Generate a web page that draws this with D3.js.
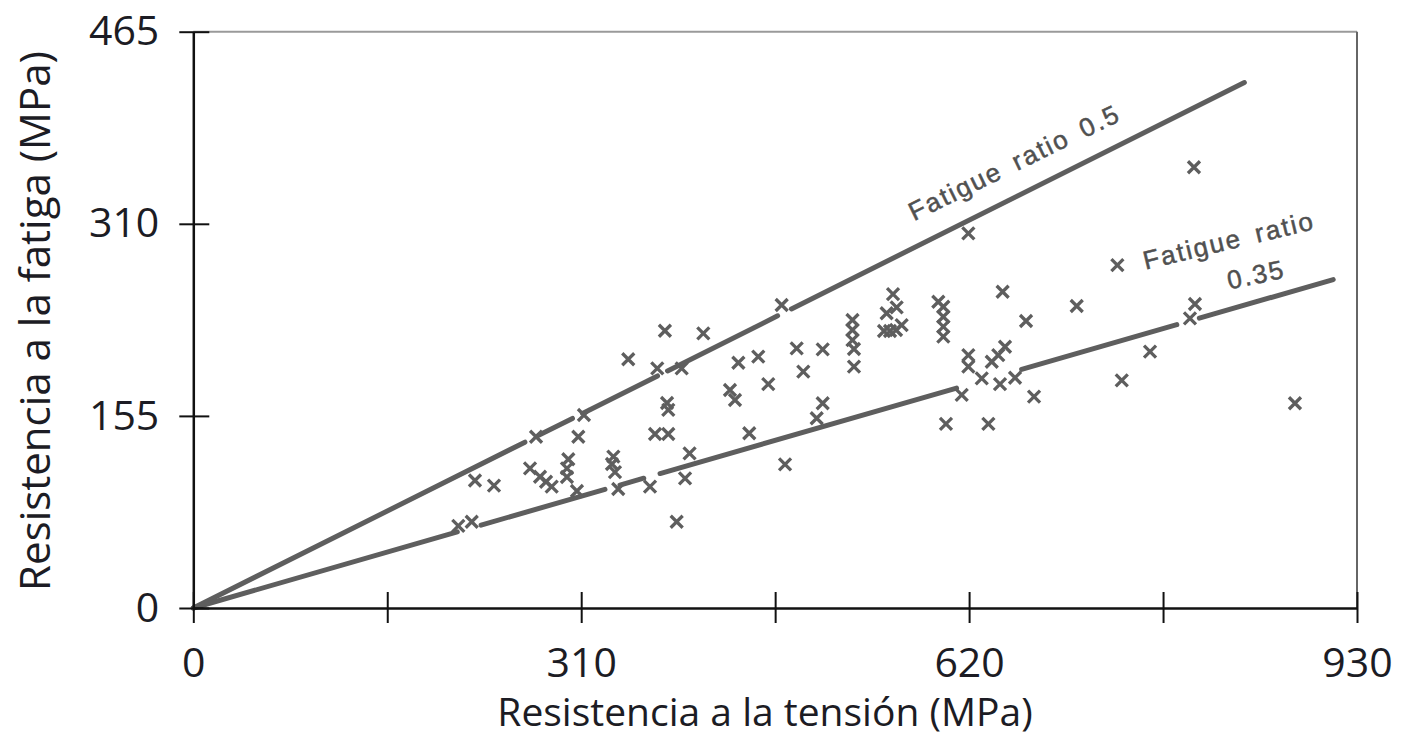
<!DOCTYPE html>
<html>
<head>
<meta charset="utf-8">
<script src="https://cdn.jsdelivr.net/npm/d3@7"></script>
<style>
  body { margin: 0; background: #fff; }
  svg { display: block; }
</style>
</head>
<body>
<div id="chart"></div>
<script>
// tensile strength (x) vs fatigue strength (y), both MPa
var tension = [211.8, 222.5, 225.1, 240.3, 269.1, 273.9, 277.1, 281.9, 286.4, 299.7,
  298.6, 298.6, 306.6, 307.7, 312.2, 335.7, 334.6, 337.0, 339.6, 347.6,
  365.0, 369.0, 370.8, 376.9, 378.6, 379.6, 379.6, 386.3, 390.3, 393.0,
  396.6, 407.6, 428.9, 432.9, 435.6, 444.3, 451.5, 459.5, 470.2, 472.9,
  482.2, 487.5, 498.2, 503.0, 503.0, 526.8, 526.8, 526.8, 528.0, 528.0,
  552.0, 556.8, 561.6, 554.1, 559.2, 562.1, 566.1, 595.4, 599.4, 599.4,
  599.4, 599.4, 601.5, 614.1, 619.4, 619.4, 619.4, 630.1, 635.4, 638.1,
  643.3, 644.7, 646.8, 648.7, 656.7, 665.5, 671.9, 706.0, 738.5, 742.0,
  764.6, 796.5, 800.5, 799.7, 880.4];
var fatiga = [66.2, 69.6, 102.9, 98.8, 112.6, 138.2, 105.9, 101.9, 97.9, 120.0,
  112.7, 105.7, 94.4, 138.2, 155.7, 122.1, 116.2, 109.7, 96.0, 200.7,
  97.9, 140.4, 193.4, 223.7, 165.4, 159.8, 140.4, 69.6, 193.4, 104.6,
  124.8, 221.6, 175.9, 167.8, 197.9, 141.0, 202.8, 180.7, 244.5, 115.9,
  209.5, 190.7, 153.1, 208.7, 165.2, 232.4, 224.3, 216.2, 209.0, 194.7,
  223.5, 223.5, 224.3, 237.8, 253.3, 242.5, 228.3, 247.1, 243.1, 235.0,
  227.0, 218.9, 148.5, 171.9, 302.3, 204.1, 194.7, 185.3, 148.5, 198.7,
  204.1, 180.7, 255.2, 210.8, 185.8, 231.6, 170.6, 243.7, 276.7, 183.7,
  206.8, 233.7, 245.3, 355.6, 165.2];

var xTicks = [0, 155, 310, 465, 620, 775, 930];
var xLabels = [0, 310, 620, 930];
var yTicks = [0, 155, 310, 465];

// ratio lines: end point and drawn pieces (gaps where crosses sit)
var upperEnd = [840, 424];
var upperPieces = [[0, 265], [276, 303], [311, 371], [379, 467], [478, 840]];
var lowerEnd = [911, 265];
var lowerPieces = [[0, 211], [230, 329], [341, 360], [373, 610], [662, 786], [804, 911]];

var W = 1401, H = 738;

var svg = d3.select("#chart").append("svg")
  .attr("width", W)
  .attr("height", H);

var x = d3.scaleLinear().domain([0, 930]).range([193.3, 1357]);
var y = d3.scaleLinear().domain([0, 465]).range([608, 31.7]);

var ink = "#5e5e5e";

// frame top and right
svg.append("line")
  .attr("x1", x(0)).attr("x2", x(930))
  .attr("y1", y(465)).attr("y2", y(465))
  .attr("stroke", "#9a9a9a").attr("stroke-width", 2);
svg.append("line")
  .attr("x1", x(930)).attr("x2", x(930))
  .attr("y1", y(465)).attr("y2", y(0))
  .attr("stroke", "#666").attr("stroke-width", 2);

// ratio lines
function drawPieces(pieces, end) {
  var k = end[1] / end[0];
  svg.append("g").selectAll("line")
    .data(pieces)
    .enter()
    .append("line")
      .attr("x1", function (d) { return x(d[0]); })
      .attr("y1", function (d) { return y(d[0] * k); })
      .attr("x2", function (d) { return x(d[1]); })
      .attr("y2", function (d) { return y(d[1] * k); })
      .attr("stroke", ink)
      .attr("stroke-width", 5)
      .attr("stroke-linecap", "round");
}
drawPieces(upperPieces, upperEnd);
drawPieces(lowerPieces, lowerEnd);

// crosses
var pts = tension.map(function (t, i) { return [t, fatiga[i]]; });
svg.append("g")
  .selectAll("path")
  .data(pts)
  .enter()
  .append("path")
    .attr("d", function (d) {
      var cx = x(d[0]), cy = y(d[1]), s = 6;
      return "M" + (cx - s) + "," + (cy - s) + "L" + (cx + s) + "," + (cy + s) +
             "M" + (cx + s) + "," + (cy - s) + "L" + (cx - s) + "," + (cy + s);
    })
    .attr("stroke", ink)
    .attr("stroke-width", 3.3)
    .attr("fill", "none");

// line labels
var labelFont = "'Liberation Sans', Arial, sans-serif";
function lineLabel(txt, at, angle) {
  svg.append("text")
    .attr("transform", "translate(" + x(at[0]) + "," + y(at[1]) + ") rotate(" + angle + ")")
    .attr("font-family", labelFont)
    .attr("font-size", 26)
    .attr("letter-spacing", 2)
    .attr("word-spacing", 5)
    .attr("fill", "#505050")
    .attr("stroke", "#505050")
    .attr("stroke-width", 0.5)
    .text(txt);
}
lineLabel("Fatigue ratio 0.5", [576, 312], -26);
lineLabel("Fatigue ratio", [761, 273], -13.5);
lineLabel("0.35", [828, 257], -12);

// axes
var tickFont = "'Open Sans', sans-serif";

var xAxis = svg.append("g")
  .attr("transform", "translate(0," + y(0) + ")")
  .call(d3.axisBottom(x)
    .tickValues(xTicks)
    .tickSizeInner(15)
    .tickSizeOuter(0)
    .tickPadding(25)
    .tickFormat(function (d) { return xLabels.indexOf(d) >= 0 ? d : ""; }));
xAxis.selectAll(".tick line").attr("y1", -16).attr("stroke", "#111").attr("stroke-width", 2);
xAxis.select(".domain").attr("stroke", "#111").attr("stroke-width", 2.5);
xAxis.selectAll("text")
  .attr("font-family", tickFont)
  .attr("font-size", 41)
  .attr("fill", "#1c1c24");

var yAxis = svg.append("g")
  .attr("transform", "translate(" + x(0) + ",0)")
  .call(d3.axisLeft(y)
    .tickValues(yTicks)
    .tickSizeInner(14)
    .tickSizeOuter(0)
    .tickPadding(20));
yAxis.selectAll(".tick line").attr("x1", 16).attr("stroke", "#111").attr("stroke-width", 2);
yAxis.select(".domain").attr("stroke", "#111").attr("stroke-width", 2.5);
yAxis.selectAll("text")
  .attr("font-family", tickFont)
  .attr("font-size", 41)
  .attr("fill", "#1c1c24");

// axis titles
svg.append("text")
  .attr("x", 765)
  .attr("y", 726)
  .attr("text-anchor", "middle")
  .attr("font-family", tickFont)
  .attr("font-size", 39)
  .attr("fill", "#1c1c24")
  .text("Resistencia a la tensión (MPa)");

svg.append("text")
  .attr("transform", "translate(50,321) rotate(-90)")
  .attr("text-anchor", "middle")
  .attr("font-family", tickFont)
  .attr("font-size", 42)
  .attr("fill", "#1c1c24")
  .text("Resistencia a la fatiga (MPa)");
</script>
</body>
</html>
